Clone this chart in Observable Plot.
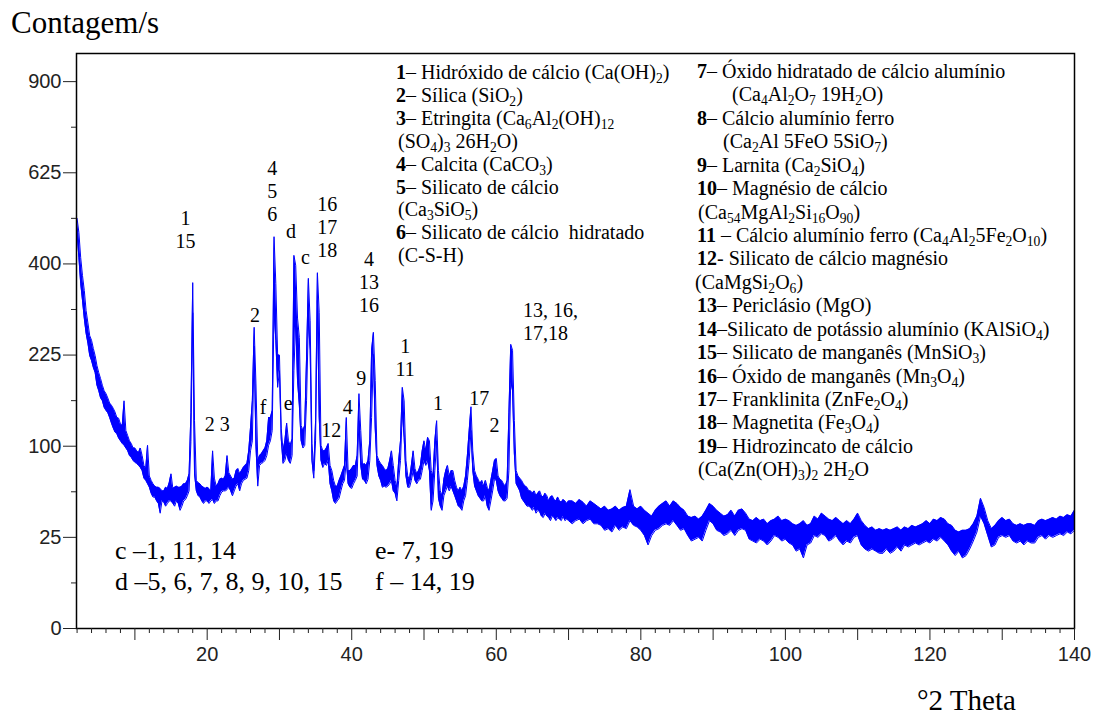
<!DOCTYPE html>
<html><head><meta charset="utf-8">
<script src="https://cdn.jsdelivr.net/npm/d3@7"></script>
<script src="https://cdn.jsdelivr.net/npm/@observablehq/plot@0.6"></script>
<style>
body{margin:0;background:#fff;}
#wrap{position:relative;width:1102px;height:715px;overflow:hidden;background:#fff;}
#wrap svg{position:absolute;left:0;top:0;}
.serif{font-family:"Liberation Serif","Times New Roman",serif;color:#000;position:absolute;white-space:nowrap;}
sub{font-size:0.68em;vertical-align:-0.28em;line-height:0;}
</style></head>
<body><div id="wrap"></div>
<script>
// ---- XRD pattern: sampled envelope (upper / lower edge of the noisy trace), counts per second ----
// segment A: 2.00° to 70.00° every 0.25°
const hiA = [
506,472,414,375,344,304,281,258,250,236,
224,208,197,188,178,170,166,160,153,150,
146,141,134,133,126,124,156,118,112,106,
103,98,98,95,93,98,90,80,77,101,
70,66,63,61,60,60,59,57,57,60,
59,64,72,59,60,61,60,60,61,63,
63,66,72,140,360,130,66,64,63,61,
60,59,60,59,57,95,68,61,63,67,
68,67,70,90,73,70,67,68,75,77,
72,75,78,80,82,95,122,156,273,180,
85,90,92,95,98,106,134,134,143,462,
358,225,225,120,95,106,127,106,101,108,
419,397,290,255,124,118,124,221,369,285,
103,75,130,381,300,101,95,95,98,103,
80,75,66,61,61,66,70,75,80,134,
75,75,77,80,80,90,166,118,80,82,
80,85,106,233,264,185,90,85,82,80,
77,75,77,85,95,80,66,60,85,106,
175,156,85,70,67,80,95,77,72,75,
80,95,106,95,110,106,75,70,106,130,
75,57,53,67,75,80,70,75,75,66,
60,57,60,57,61,70,90,118,148,95,
75,70,67,63,66,61,66,60,57,66,
75,85,87,70,67,66,63,61,66,140,
243,233,130,75,70,68,66,63,61,60,
57,57,55,57,53,55,57,53,52,55,
53,49,52,53,50,49,52,49,48,50,
49,47,49
];
const loA = [
470,414,358,324,289,262,245,224,216,205,
197,178,170,160,156,147,143,140,134,127,
121,116,114,109,106,103,101,98,95,90,
88,85,83,82,80,78,75,68,66,63,
60,55,52,52,49,47,40,49,48,45,
47,49,49,47,45,49,47,42,45,49,
50,53,57,105,300,72,57,53,52,49,
47,49,49,47,49,50,47,49,49,53,
56,57,57,58,60,57,53,57,61,63,
57,63,66,67,68,75,95,106,240,100,
61,80,82,83,85,90,101,106,118,304,
250,175,200,108,82,85,92,85,82,90,
200,285,185,150,106,98,101,156,285,233,
85,68,106,324,134,85,78,82,80,85,
63,57,49,47,49,51,57,63,66,85,
63,60,59,63,66,70,130,80,67,66,
63,67,85,134,226,120,80,70,66,60,
61,60,61,63,66,57,55,49,66,85,
143,110,70,60,60,66,75,66,63,66,
67,75,85,80,85,75,42,49,75,106,
51,45,42,53,57,61,57,61,57,53,
49,45,44,42,49,53,66,85,118,75,
61,57,53,51,49,49,53,45,42,49,
57,67,66,57,53,51,49,49,51,75,
185,170,92,63,60,57,51,49,47,45,
45,44,42,44,40,42,41,38,37,40,
38,37,35,38,37,35,37,36,35,38,
35,36,35
];
// segment B: 70.5° to 140.0° every 0.5°
const hiB = [
49,47,50,48,45,49,47,45,43,45,
42,43,45,42,44,45,58,45,43,45,
42,40,38,42,45,47,49,45,49,47,
44,42,38,37,38,36,38,42,47,45,
42,40,38,39,42,38,42,43,40,36,
35,37,35,36,33,35,36,38,35,36,
35,33,32,33,35,32,33,38,36,40,
38,36,35,37,35,33,35,33,36,40,
35,32,30,31,29,30,29,30,29,30,
31,29,31,30,32,31,32,33,35,33,
36,35,37,36,33,32,29,28,29,29,
30,33,38,51,44,35,30,32,35,37,
35,36,33,32,33,32,33,33,32,35,
36,35,36,37,36,38,37,39,38,42
];
const loB = [
33,35,36,33,35,36,33,33,32,29,
30,28,32,29,31,30,35,32,31,29,
26,21,26,29,30,32,33,32,35,32,
29,30,26,23,24,25,23,29,35,33,
29,28,26,27,29,26,29,30,29,24,
23,22,24,23,21,23,26,25,23,24,
22,21,18,19,15,21,22,26,25,27,
26,23,24,26,23,21,23,22,25,26,
21,19,18,19,18,17,17,19,17,18,
20,18,21,20,21,22,21,22,23,22,
24,23,25,23,21,18,16,18,15,16,
19,23,28,38,33,26,20,21,25,26,
25,26,23,22,23,21,23,22,22,25,
26,24,26,25,26,27,26,28,27,29
];
const startA = 2, stepA = 0.25, startB = 70.5, stepB = 0.5;

// ---- axis ticks ----
const yTicks = [0, 25, 100, 225, 400, 625, 900];
const yMinorTicks = [6.25, 56.25, 156.25, 306.25, 506.25, 756.25];
const xMajorTicks = [10, 20, 30, 40, 50, 60, 70, 80, 90, 100, 110, 120, 130, 140];
const xLabelTicks = [20, 40, 60, 80, 100, 120, 140];

// ---- peak labels (angle, counts) ----
const peakText = ["1\n15", "4\n5\n6", "d", "c", "16\n17\n18", "4\n13\n16", "2", "f", "e", "2 3", "12", "4", "9", "1\n11", "1", "17", "2"];
const peakX    = [17.0, 29.0, 31.6, 33.6, 36.6, 42.4, 26.6, 27.75, 31.2, 21.4, 37.15, 39.45, 41.3, 47.4, 51.95, 57.65, 59.75];
const peakY    = [481, 577, 477, 416, 485, 362, 297, 148, 154, 126, 119, 148, 189, 221, 154, 161, 125];
const peakText2 = ["13, 16,\n17,18"];
const peakX2 = [63.7];
const peakY2 = [284];

// ---- legend / notes ----
const legendCol1 = [
  "<b>1</b>– Hidróxido de cálcio (Ca(OH)<sub>2</sub>)",
  "<b>2</b>– Sílica (SiO<sub>2</sub>)",
  "<b>3</b>– Etringita (Ca<sub>6</sub>Al<sub>2</sub>(OH)<sub>12</sub>",
  "(SO<sub>4</sub>)<sub>3</sub> 26H<sub>2</sub>O)",
  "<b>4</b>– Calcita (CaCO<sub>3</sub>)",
  "<b>5</b>– Silicato de cálcio",
  "(Ca<sub>3</sub>SiO<sub>5</sub>)",
  "<b>6</b>– Silicato de cálcio&nbsp; hidratado",
  "(C-S-H)"
];
const legendCol1Indent = [0, 0, 0, 2, 0, 0, 2, 0, 2];
const legendCol2 = [
  "<b>7</b>– Óxido hidratado de cálcio alumínio",
  "(Ca<sub>4</sub>Al<sub>2</sub>O<sub>7</sub> 19H<sub>2</sub>O)",
  "<b>8</b>– Cálcio alumínio ferro",
  "(Ca<sub>2</sub>Al 5FeO 5SiO<sub>7</sub>)",
  "<b>9</b>– Larnita (Ca<sub>2</sub>SiO<sub>4</sub>)",
  "<b>10</b>– Magnésio de cálcio",
  "(Ca<sub>54</sub>MgAl<sub>2</sub>Si<sub>16</sub>O<sub>90</sub>)",
  "<b>11</b> – Cálcio alumínio ferro (Ca<sub>4</sub>Al<sub>2</sub>5Fe<sub>2</sub>O<sub>10</sub>)",
  "<b>12</b>- Silicato de cálcio magnésio",
  "(CaMgSi<sub>2</sub>O<sub>6</sub>)",
  "<b>13</b>– Periclásio (MgO)",
  "<b>14</b>–Silicato de potássio alumínio (KAlSiO<sub>4</sub>)",
  "<b>15</b>– Silicato de manganês (MnSiO<sub>3</sub>)",
  "<b>16</b>– Óxido de manganês (Mn<sub>3</sub>O<sub>4</sub>)",
  "<b>17</b>– Franklinita (ZnFe<sub>2</sub>O<sub>4</sub>)",
  "<b>18</b>– Magnetita (Fe<sub>3</sub>O<sub>4</sub>)",
  "<b>19</b>– Hidrozincato de cálcio",
  "(Ca(Zn(OH)<sub>3</sub>)<sub>2</sub> 2H<sub>2</sub>O"
];
const legendCol2Indent = [0, 35, 0, 26, 0, 0, 1, 0, 0, -2, 0, 0, 0, 0, 0, 0, 0, 1];
const notesLeft = ["c –1, 11, 14", "d –5, 6, 7, 8, 9, 10, 15"];
const notesRight = ["e- 7, 19", "f – 14, 19"];
const yTitle = "Contagem/s";
const xTitle = "°2 Theta";

// ---- build table ----
const data = [
  ...hiA.map((h, i) => ({x: startA + i * stepA, hi: h, lo: loA[i]})),
  ...hiB.map((h, i) => ({x: startB + i * stepB, hi: h, lo: loB[i]}))
];
const xMinorTicks = d3.range(2, 141, 2).filter(d => d % 10 !== 0);
const labels1 = peakText.map((t, i) => ({t, x: peakX[i], y: peakY[i]}));
const labels2 = peakText2.map((t, i) => ({t, x: peakX2[i], y: peakY2[i]}));
const blue = "#0000ff";
const serif = "Liberation Serif, Times New Roman, serif";

const chart = Plot.plot({
  width: 1102, height: 715,
  marginLeft: 76, marginRight: 28, marginTop: 53, marginBottom: 87,
  style: {fontFamily: "Liberation Sans, Arial, sans-serif", background: "white", overflow: "visible"},
  x: {domain: [1.92, 140], axis: null},
  y: {type: "sqrt", domain: [0, 995], axis: null},
  marks: [
    Plot.areaY(data, {x: "x", y1: "lo", y2: "hi", fill: blue}),
    Plot.line(data, {x: "x", y: "hi", stroke: blue, strokeWidth: 1}),
    Plot.line(data, {x: "x", y: "lo", stroke: blue, strokeWidth: 1}),
    Plot.frame({stroke: "black", strokeWidth: 1.5}),
    Plot.axisY(yTicks, {tickSize: 13, tickPadding: 2, fontSize: 20, color: "#222", label: null}),
    Plot.axisY(yMinorTicks, {tickSize: 5, tickFormat: () => "", color: "#222", label: null}),
    Plot.axisX(xMajorTicks, {tickSize: 12, tickPadding: 6, fontSize: 20, color: "#222", label: null,
      tickFormat: d => xLabelTicks.includes(d) ? String(d) : ""}),
    Plot.axisX(xMinorTicks, {tickSize: 5, tickFormat: () => "", color: "#222", label: null}),
    Plot.text(labels1, {x: "x", y: "y", text: "t", fontSize: 20, fontFamily: serif, lineHeight: 1.15, fill: "black", textAnchor: "middle", lineAnchor: "middle"}),
    Plot.text(labels2, {x: "x", y: "y", text: "t", fontSize: 20, fontFamily: serif, lineHeight: 1.15, fill: "black", textAnchor: "start", lineAnchor: "middle"})
  ]
});
const wrap = document.getElementById("wrap");
wrap.appendChild(chart);

function addDiv(html, left, top, size, lh, indent) {
  const d = document.createElement("div");
  d.className = "serif";
  d.style.left = (left + (indent || 0)) + "px";
  d.style.top = top + "px";
  d.style.fontSize = size + "px";
  d.style.lineHeight = lh + "px";
  d.innerHTML = html;
  wrap.appendChild(d);
}
legendCol1.forEach((h, i) => addDiv(h, 396, 61 + i * 22.9, 20, 22.9, legendCol1Indent[i]));
legendCol2.forEach((h, i) => addDiv(h, 697, 60 + i * 23.43, 20, 23.43, legendCol2Indent[i]));
notesLeft.forEach((h, i) => addDiv(h, 115, 537.5 + i * 31.5, 26, 26));
notesRight.forEach((h, i) => addDiv(h, 375, 537.5 + i * 31.5, 26, 26));
addDiv(yTitle, 11, 7, 31, 31);
addDiv(xTitle, 917, 686, 29, 29);
</script>
</body></html>
